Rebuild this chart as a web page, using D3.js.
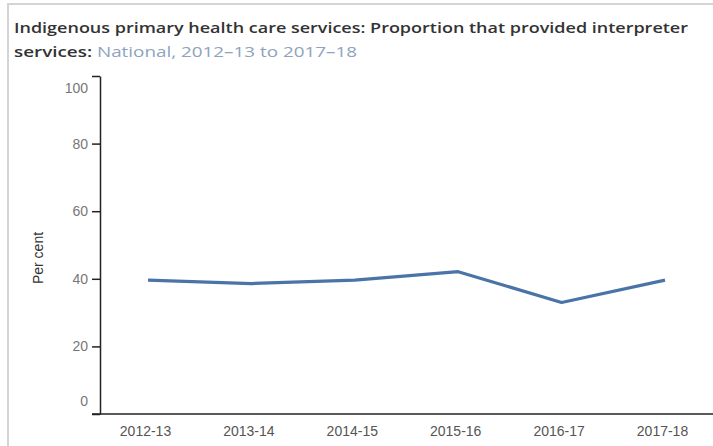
<!DOCTYPE html>
<html>
<head>
<meta charset="utf-8">
<script src="https://cdn.jsdelivr.net/npm/d3@7"></script>
<style>
  html, body { margin: 0; padding: 0; background: #fff; }
  svg { display: block; }
</style>
</head>
<body>
<div id="chart"></div>
<script>
// Reporting periods and the share of services that provided interpreters (%)
const periods = ["2012-13", "2013-14", "2014-15", "2015-16", "2016-17", "2017-18"];
const percentValues = [39.6, 38.6, 39.6, 42.1, 33.0, 39.6];
const yTicks = [0, 20, 40, 60, 80, 100];

const titleLine1 = "Indigenous primary health care services: Proportion that provided interpreter";
const titleLine2Bold = "services:";
const titleLine2Light = " National, 2012\u201313 to 2017\u201318";

const W = 713, H = 446;
const svg = d3.select("#chart").append("svg")
  .attr("width", W).attr("height", H);

// outer frame
svg.append("rect")
  .attr("x", 8).attr("y", 4)
  .attr("width", W + 10).attr("height", H + 10)
  .attr("fill", "#fff")
  .attr("stroke", "#d4d4d4").attr("stroke-width", 2);

// title
const titleFont = "'Open Sans', 'Noto Sans', sans-serif";
svg.append("text")
  .attr("x", 14).attr("y", 33)
  .attr("font-family", titleFont)
  .attr("font-size", 15).attr("font-weight", 600)
  .attr("fill", "#333")
  .attr("textLength", 674).attr("lengthAdjust", "spacingAndGlyphs")
  .text(titleLine1);

const t2 = svg.append("text")
  .attr("x", 14).attr("y", 57)
  .attr("font-family", titleFont)
  .attr("font-size", 15)
  .attr("textLength", 343).attr("lengthAdjust", "spacingAndGlyphs");
t2.append("tspan").attr("font-weight", 600).attr("fill", "#333").text(titleLine2Bold);
t2.append("tspan").attr("font-weight", 400).attr("fill", "#8ea3bd").text(titleLine2Light);

// scales
const x = d3.scalePoint().domain(periods).range([148, 665]);
const y = d3.scaleLinear().domain([0, 100]).range([414, 76]);

// y axis
const yAxis = svg.append("g")
  .attr("transform", "translate(100,0)")
  .call(d3.axisLeft(y).tickValues(yTicks).tickSize(8).tickSizeOuter(0).tickPadding(4));
yAxis.select(".domain").attr("stroke", "#222").attr("stroke-width", 1.5);
yAxis.selectAll(".tick line").attr("stroke", "#222").attr("stroke-width", 1.5);
yAxis.selectAll(".tick text")
  .attr("font-family", "'Liberation Sans', Arial, sans-serif")
  .attr("font-size", 14)
  .attr("fill", "#777")
  .attr("dy", d => d === 100 ? "1.2em" : d === 0 ? "-0.6em" : "0.32em");

// x axis baseline
svg.append("line")
  .attr("x1", 92).attr("x2", W)
  .attr("y1", y(0)).attr("y2", y(0))
  .attr("stroke", "#222").attr("stroke-width", 1.5);

// x labels
const xAxis = svg.append("g")
  .attr("transform", `translate(0,${y(0)})`)
  .call(d3.axisBottom(x).tickSize(0).tickPadding(12));
xAxis.select(".domain").remove();
xAxis.selectAll(".tick text")
  .attr("font-family", "'Liberation Sans', Arial, sans-serif")
  .attr("font-size", 14)
  .attr("fill", "#555")
  .attr("dx", -3);

// y axis title
svg.append("text")
  .attr("transform", "translate(43,258) rotate(-90)")
  .attr("text-anchor", "middle")
  .attr("font-family", "'Liberation Sans', Arial, sans-serif")
  .attr("font-size", 14)
  .attr("fill", "#333")
  .text("Per cent");

// series line
const line = d3.line()
  .x((d, i) => x(periods[i]))
  .y(d => y(d));
svg.append("path")
  .datum(percentValues)
  .attr("fill", "none")
  .attr("stroke", "#4a74a8")
  .attr("stroke-width", 3.2)
  .attr("stroke-linejoin", "round")
  .attr("d", line);
</script>
</body>
</html>
